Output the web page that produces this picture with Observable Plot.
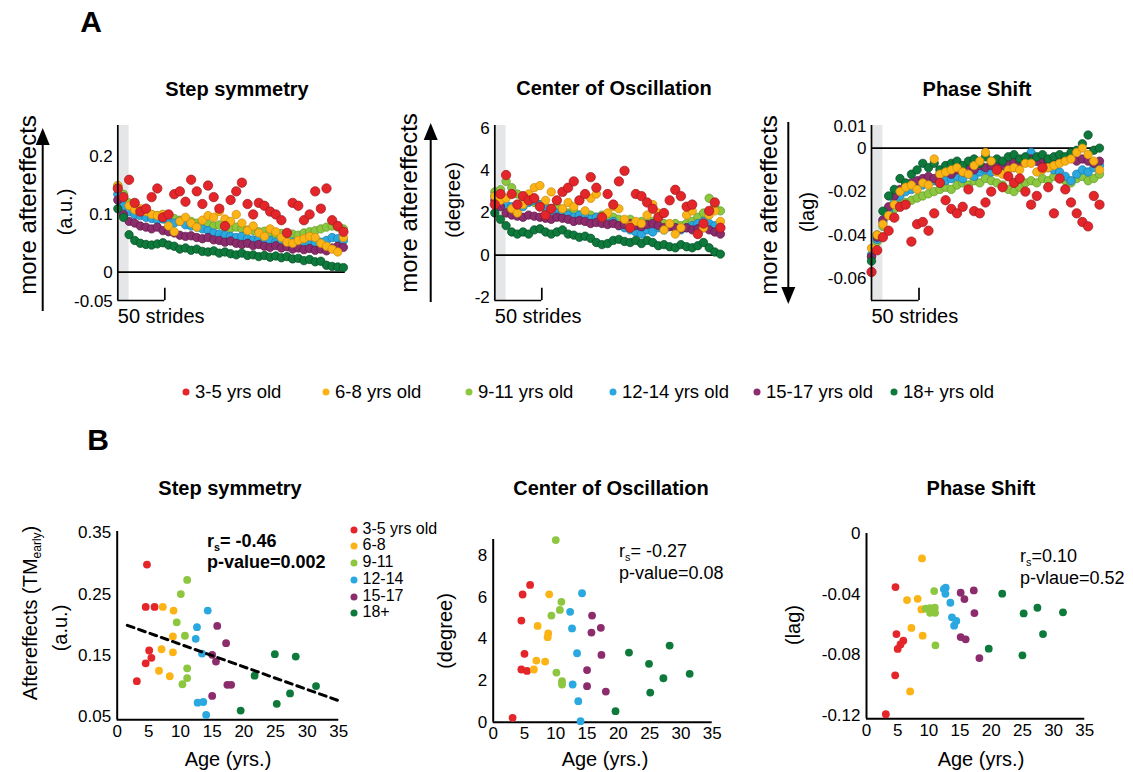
<!DOCTYPE html>
<html><head><meta charset="utf-8">
<script src="https://cdn.jsdelivr.net/npm/d3@7"></script>
<script src="https://cdn.jsdelivr.net/npm/@observablehq/plot@0.6"></script>
<style>
body{margin:0;width:1133px;height:772px;position:relative;overflow:hidden;background:#fff;font-family:"Liberation Sans",Arial,Helvetica,sans-serif;color:#000}
.pl{position:absolute}
.pl svg{overflow:visible}
.t{position:absolute;white-space:nowrap;line-height:1;transform:translate(-50%,-50%)}
.l{position:absolute;white-space:nowrap;line-height:1;transform:translate(0,-50%)}
.r{position:absolute;white-space:nowrap;line-height:1;transform:translate(-50%,-50%) rotate(-90deg)}
.dot{display:inline-block;width:7px;height:7px;border-radius:50%;position:absolute;transform:translate(-50%,-50%)}
sub{font-size:60%;vertical-align:-0.35em;line-height:0}
</style>
</head><body>
<script>
// ---------- categories ----------
const groups = ["3-5 yrs old","6-8 yrs old","9-11 yrs old","12-14 yrs old","15-17 yrs old","18+ yrs old"];
const groupShort = ["3-5 yrs old","6-8","9-11","12-14","15-17","18+"];
const groupColors = ["#e4252a","#fcb316","#8dc63f","#2aa8df","#8d2c6d","#0d7a3c"];
const groupStrokes = ["#9b1b1f","#c98a0c","#5e9a2a","#1c78a8","#5a1a46","#064a24"];
const drawOrder = [2,3,4,5,1,0];

// ---------- panel A: stride index of each sample ----------
const strides = [0,6,12,18,24,30,36,42,48,54,60,66,72,78,84,90,96,102,108,114,120,126,132,138,144,150,156,162,168,174,180,186,192,198,204,210,216,222,228,234,240];
const catchPeriod = [0, 12];
const scaleBar = [0, 50];

// Step symmetry (a.u.)
const step35   = [0.145,0.130,0.160,0.120,0.105,0.110,0.130,0.145,0.095,0.100,0.135,0.140,0.122,0.160,0.140,0.118,0.150,0.130,0.110,0.080,0.125,0.140,0.155,0.118,0.100,0.120,0.115,0.105,0.100,0.090,0.068,0.120,0.115,0.090,0.100,0.140,0.110,0.145,0.090,0.080,0.070];
const step68   = [0.150,0.130,0.115,0.108,0.110,0.105,0.100,0.098,0.100,0.080,0.070,0.088,0.095,0.085,0.078,0.090,0.098,0.095,0.105,0.092,0.088,0.100,0.085,0.072,0.080,0.068,0.062,0.075,0.070,0.060,0.052,0.050,0.055,0.058,0.062,0.060,0.050,0.045,0.040,0.035,0.060];
const step911  = [0.150,0.135,0.120,0.112,0.108,0.105,0.100,0.098,0.100,0.095,0.093,0.090,0.092,0.088,0.085,0.086,0.083,0.080,0.082,0.078,0.076,0.078,0.075,0.073,0.072,0.070,0.071,0.068,0.066,0.067,0.065,0.066,0.064,0.068,0.070,0.072,0.075,0.078,0.080,0.078,0.075];
const step1214 = [0.135,0.115,0.105,0.100,0.098,0.095,0.093,0.090,0.092,0.088,0.085,0.088,0.082,0.080,0.078,0.075,0.072,0.068,0.066,0.064,0.062,0.060,0.062,0.058,0.056,0.058,0.054,0.055,0.052,0.053,0.050,0.052,0.049,0.050,0.048,0.050,0.052,0.055,0.060,0.058,0.055];
const step1517 = [0.125,0.100,0.088,0.085,0.080,0.078,0.075,0.078,0.072,0.070,0.068,0.064,0.062,0.063,0.060,0.058,0.060,0.056,0.055,0.052,0.054,0.050,0.048,0.050,0.046,0.048,0.045,0.043,0.046,0.042,0.044,0.040,0.042,0.039,0.041,0.038,0.040,0.037,0.042,0.045,0.043];
const step18   = [0.110,0.095,0.065,0.055,0.050,0.048,0.047,0.049,0.051,0.047,0.045,0.040,0.042,0.038,0.040,0.036,0.035,0.037,0.033,0.035,0.032,0.030,0.033,0.029,0.030,0.027,0.029,0.026,0.028,0.025,0.027,0.023,0.024,0.020,0.022,0.018,0.019,0.012,0.010,0.009,0.008];

// Center of Oscillation (degree)
const coo35   = [2.4,2.9,3.8,2.9,2.4,2.8,2.6,2.7,2.3,1.9,2.2,2.6,3.0,3.2,3.5,2.6,2.9,3.7,3.2,1.8,2.9,2.4,3.5,4.0,1.3,2.9,2.8,2.5,2.2,1.8,2.0,2.6,3.1,2.8,2.3,2.4,1.0,1.5,2.1,2.5,1.3];
const coo68   = [2.8,2.6,2.7,2.2,2.0,2.4,2.9,3.2,3.3,2.6,3.0,2.6,2.2,2.5,2.3,2.6,2.1,2.7,2.9,1.8,2.0,2.3,2.2,1.7,1.4,1.6,1.5,1.9,2.4,2.0,1.2,1.5,1.0,1.3,1.9,2.1,1.0,1.3,1.9,2.1,1.6];
const coo911  = [3.0,3.1,3.5,3.2,2.9,2.7,2.6,2.5,2.4,2.3,2.2,2.3,2.1,2.0,2.1,1.9,2.0,1.9,1.8,1.9,1.7,1.8,1.7,1.6,1.7,1.5,1.6,1.5,1.6,1.4,1.5,1.4,1.5,1.4,1.5,1.6,1.8,2.0,2.7,2.3,2.1];
const coo1214 = [2.8,2.6,2.4,2.3,2.2,2.3,2.5,2.6,2.4,2.2,2.1,2.0,2.1,1.9,1.8,1.9,1.8,1.7,1.8,1.6,1.5,1.6,1.4,1.3,1.2,1.1,1.0,1.2,1.1,1.3,1.2,1.4,1.3,1.2,1.3,1.4,1.5,1.6,1.5,1.4,1.3];
const coo1517 = [2.6,2.3,2.0,1.9,1.85,1.8,1.9,1.85,1.8,1.75,1.7,1.8,1.75,1.7,1.6,1.65,1.6,1.5,1.55,1.5,1.45,1.5,1.4,1.45,1.5,1.4,1.35,1.45,1.5,1.4,1.3,1.35,1.3,1.25,1.3,1.2,1.25,1.3,1.2,1.1,1.0];
const coo18   = [2.0,1.7,1.4,1.1,1.0,1.1,1.0,1.2,1.25,1.1,1.0,1.1,1.2,1.0,0.95,0.85,0.9,0.8,0.6,0.5,0.55,0.7,0.75,0.65,0.6,0.7,0.55,0.7,0.6,0.45,0.5,0.4,0.35,0.5,0.4,0.35,0.45,0.6,0.35,0.15,0.05];

// Phase Shift (lag)
const ps35   = [-0.057,-0.047,-0.041,-0.038,-0.032,-0.027,-0.026,-0.043,-0.035,-0.034,-0.038,-0.030,-0.016,-0.024,-0.028,-0.030,-0.027,-0.019,-0.029,-0.030,-0.025,-0.020,-0.010,-0.018,-0.013,-0.016,-0.014,-0.020,-0.026,-0.022,-0.009,-0.018,-0.030,-0.014,-0.019,-0.025,-0.030,-0.034,-0.036,-0.022,-0.026];
const ps68   = [-0.046,-0.040,-0.035,-0.031,-0.026,-0.020,-0.018,-0.017,-0.019,-0.016,-0.017,-0.005,-0.012,-0.011,-0.010,-0.009,-0.011,-0.012,-0.008,-0.006,-0.002,-0.006,-0.011,-0.012,-0.010,-0.009,-0.010,-0.007,-0.007,-0.011,-0.010,-0.009,-0.008,-0.007,-0.006,-0.005,-0.002,0.000,-0.003,-0.006,-0.010];
const ps911  = [-0.050,-0.043,-0.036,-0.031,-0.028,-0.026,-0.025,-0.024,-0.023,-0.022,-0.021,-0.020,-0.019,-0.018,-0.019,-0.017,-0.016,-0.017,-0.015,-0.016,-0.014,-0.015,-0.016,-0.017,-0.019,-0.020,-0.018,-0.016,-0.015,-0.016,-0.014,-0.015,-0.013,-0.014,-0.015,-0.016,-0.014,-0.013,-0.015,-0.014,-0.012];
const ps1214 = [-0.049,-0.042,-0.034,-0.029,-0.025,-0.022,-0.020,-0.019,-0.018,-0.017,-0.016,-0.015,-0.016,-0.015,-0.014,-0.013,-0.014,-0.012,-0.013,-0.011,-0.010,-0.011,-0.009,-0.010,-0.008,-0.009,-0.007,-0.005,-0.002,-0.006,-0.008,-0.009,-0.010,-0.011,-0.013,-0.015,-0.012,-0.010,-0.011,-0.009,-0.008];
const ps1517 = [-0.050,-0.041,-0.033,-0.027,-0.022,-0.019,-0.017,-0.016,-0.015,-0.014,-0.013,-0.014,-0.012,-0.011,-0.012,-0.010,-0.011,-0.009,-0.010,-0.008,-0.009,-0.008,-0.007,-0.008,-0.007,-0.006,-0.007,-0.006,-0.005,-0.006,-0.005,-0.006,-0.005,-0.006,-0.005,-0.004,-0.006,-0.005,-0.006,-0.007,-0.006];
const ps18   = [-0.052,-0.040,-0.029,-0.022,-0.019,-0.014,-0.016,-0.012,-0.010,-0.007,-0.009,-0.007,-0.010,-0.008,-0.007,-0.006,-0.008,-0.006,-0.005,-0.007,-0.004,-0.006,-0.005,-0.006,-0.004,-0.003,-0.005,-0.004,-0.006,-0.004,-0.003,-0.005,-0.004,-0.003,-0.004,-0.002,-0.001,0.002,0.006,-0.001,0.000];

// ---------- panel B: subjects (7 per age group) ----------
const subjGroup = [0,0,0,0,0,0,0, 1,1,1,1,1,1,1, 2,2,2,2,2,2,2, 3,3,3,3,3,3,3, 4,4,4,4,4,4,4, 5,5,5,5,5,5,5];
const stepAge = [4.7,4.5,5.9,5.05,5.4,4.5,3.1, 7.2,8.9,8.8,8.8,7.0,6.6,8.3, 11.05,10.05,9.4,10.7,11.05,11.05,10.3, 14.3,12.6,12.4,13.4,12.7,13.6,14.05, 15.8,17.2,15.0,15.6,17.4,18.0,15.0, 24.9,28.2,21.7,31.4,27.3,25.2,19.5];
const stepVal = [0.298,0.229,0.229,0.158,0.146,0.137,0.108, 0.229,0.223,0.181,0.155,0.160,0.125,0.116, 0.273,0.250,0.204,0.182,0.129,0.113,0.103, 0.223,0.196,0.177,0.153,0.073,0.074,0.053, 0.198,0.170,0.151,0.140,0.102,0.102,0.084, 0.152,0.148,0.117,0.100,0.088,0.071,0.060];
const stepFitAge = [1.6, 35.3];
const stepFitVal = [0.199, 0.075];
const cooAge = [3.1,4.7,5.9,4.5,5.0,4.5,5.4, 8.95,7.1,8.8,8.7,6.9,8.3,6.5, 10.0,10.9,10.65,9.3,10.1,11.0,11.0, 14.2,12.3,12.6,13.4,12.7,13.6,13.96, 15.8,17.2,15.7,17.3,15.0,15.0,18.0, 28.2,21.7,24.9,31.4,27.2,25.1,19.55];
const cooVal = [0.21,6.13,6.59,4.88,3.28,2.53,2.46, 6.14,4.62,4.26,4.08,2.96,2.91,2.53, 8.74,5.78,5.39,5.12,2.38,1.97,1.81, 6.19,5.30,4.50,3.31,1.81,1.01,0.05, 5.12,4.53,4.30,3.23,2.50,1.73,1.47, 3.68,3.34,2.80,2.32,2.11,1.42,0.53];
const phaseAge = [4.65,4.8,5.9,5.45,5.0,4.6,3.1, 8.9,6.5,8.2,8.8,7.2,9.0,7.0, 10.85,9.5,10.15,10.2,10.95,11.0,11.05, 12.7,12.4,12.65,13.45,13.7,14.4,14.05, 17.2,15.1,15.7,17.3,15.1,15.9,18.1, 21.76,25.2,27.4,31.5,28.3,19.6,25.0];
const phaseVal = [-0.0353,-0.0662,-0.0706,-0.0730,-0.0760,-0.0934,-0.119, -0.0164,-0.0438,-0.0430,-0.0500,-0.0622,-0.0673,-0.104, -0.0379,-0.0495,-0.0491,-0.0522,-0.0489,-0.0522,-0.0736, -0.0357,-0.0366,-0.0397,-0.0456,-0.0552,-0.0576,-0.0607, -0.0375,-0.0390,-0.0432,-0.0524,-0.0682,-0.0697,-0.0820, -0.0396,-0.0526,-0.0489,-0.0519,-0.0662,-0.0758,-0.0802];
const ageTicks = [0,5,10,15,20,25,30,35];

// ---------- helpers ----------
const FONT = '"Liberation Sans", Arial, Helvetica, sans-serif';
function place(node, left, top) {
  const d = document.createElement("div");
  d.className = "pl"; d.style.left = left + "px"; d.style.top = top + "px";
  d.appendChild(node); document.body.appendChild(d);
}
function txt(cls, html, x, y, css) {
  const d = document.createElement("div");
  d.className = cls; d.innerHTML = html;
  d.style.left = x + "px"; d.style.top = y + "px";
  Object.assign(d.style, css || {});
  document.body.appendChild(d);
  return d;
}

function panelA(cfg) {
  const [y0, y1] = cfg.yDomain;
  const marks = [
    Plot.rect([catchPeriod], {x1: d => d[0], x2: d => d[1], y1: y0, y2: y1, fill: "#e5e6e7"}),
    Plot.ruleY([0], {x1: 0, x2: strides[strides.length - 1] + 2, stroke: "#000", strokeWidth: 1.7})
  ];
  for (const g of drawOrder) {
    const rows = cfg.series[g].map((v, i) => ({s: strides[i], v}));
    marks.push(Plot.dot(rows, {x: "s", y: "v", r: g === 0 ? 4.7 : 4.2, fill: groupColors[g], stroke: groupStrokes[g], strokeWidth: 0.7}));
  }
  marks.push(
    Plot.ruleX([0], {y1: y0, y2: y1, stroke: "#000", strokeWidth: 1.7}),
    Plot.ruleY([y0], {x1: scaleBar[0], x2: scaleBar[1], stroke: "#000", strokeWidth: 1.7}),
    Plot.ruleX([scaleBar[1]], {y1: y0, y2: y0 + (y1 - y0) * 0.07, stroke: "#000", strokeWidth: 1.7}),
    Plot.axisY({ticks: cfg.ticks, tickSize: 0, tickPadding: 5, tickFormat: d => String(d), fontSize: 17, label: null}),
    Plot.text(["50 strides"], {x: 0, y: y0, dy: 16, textAnchor: "start", fontSize: 20})
  );
  return Plot.plot({
    width: cfg.width, height: 230,
    marginLeft: cfg.ml, marginRight: cfg.mr, marginTop: 25, marginBottom: 30,
    x: {domain: [0, 242], axis: null},
    y: {domain: cfg.yDomain, axis: null},
    style: {fontFamily: FONT, fontSize: "17px", overflow: "visible", color: "#000"},
    marks
  });
}

function panelB(cfg) {
  const [y0, y1] = cfg.yDomain;
  const rows = cfg.age.map((a, i) => ({a, v: cfg.val[i], g: subjGroup[i]}));
  const marks = [
    Plot.ruleX([0], {y1: y0, y2: y1, stroke: "#000", strokeWidth: 2}),
    Plot.ruleY([y0], {x1: 0, x2: 35, stroke: "#000", strokeWidth: 2}),
    Plot.dot(rows, {x: "a", y: "v", r: 3.9, fill: d => groupColors[d.g], stroke: "none"}),
    Plot.axisX({ticks: ageTicks, tickSize: 0, tickPadding: 5, fontSize: 17, label: null}),
    Plot.axisY({ticks: cfg.ticks, tickSize: 0, tickPadding: 6, tickFormat: d => String(d), fontSize: 17, label: null})
  ];
  if (cfg.fit) marks.push(Plot.line(cfg.fit.a.map((a, i) => ({a, v: cfg.fit.v[i]})), {x: "a", y: "v", stroke: "#000", strokeWidth: 3, strokeDasharray: "7,5"}));
  return Plot.plot({
    width: cfg.width, height: 250,
    marginLeft: cfg.ml, marginRight: cfg.mr, marginTop: cfg.mt, marginBottom: cfg.mb,
    x: {domain: [0, 35]},
    y: {domain: cfg.yDomain},
    style: {fontFamily: FONT, fontSize: "17px", overflow: "visible", color: "#000"},
    marks
  });
}

// ---------- Panel A plots ----------
place(panelA({width: 360, ml: 117.3, mr: 15.2, yDomain: [-0.049, 0.254], ticks: [0.2, 0.1, 0, -0.05],
  series: [step35, step68, step911, step1214, step1517, step18]}), 0, 100);
place(panelA({width: 360, ml: 114.3, mr: 18.2, yDomain: [-2.15, 6.15], ticks: [6, 4, 2, 0, -2],
  series: [coo35, coo68, coo911, coo1214, coo1517, coo18]}), 380, 100);
place(panelA({width: 380, ml: 131, mr: 19.1, yDomain: [-0.0701, 0.0104], ticks: [0.01, 0, -0.02, -0.04, -0.06],
  series: [ps35, ps68, ps911, ps1214, ps1517, ps18]}), 740, 100);

// ---------- Panel B plots ----------
place(panelB({width: 360, ml: 116.7, mr: 21.7, mt: 31, mb: 30.7, yDomain: [0.045, 0.352], ticks: [0.35, 0.25, 0.15, 0.05],
  age: stepAge, val: stepVal, fit: {a: stepFitAge, v: stepFitVal}}), 0, 500);
place(panelB({width: 360, ml: 112.7, mr: 28.3, mt: 39, mb: 28.3, yDomain: [0, 8.77], ticks: [0, 2, 4, 6, 8],
  age: cooAge, val: cooVal}), 380, 500);
place(panelB({width: 380, ml: 126, mr: 35.7, mt: 33, mb: 31.7, yDomain: [-0.122, 0], ticks: [0, -0.04, -0.08, -0.12],
  age: phaseAge, val: phaseVal}), 740, 500);

// ---------- texts ----------
txt("t", "A", 91, 22, {fontWeight: "bold", fontSize: "30px"});
txt("t", "B", 98, 440, {fontWeight: "bold", fontSize: "30px"});
const titleCss = {fontWeight: "bold", fontSize: "20px"};
txt("t", "Step symmetry", 237, 89, titleCss);
txt("t", "Center of Oscillation", 614, 88, titleCss);
txt("t", "Phase Shift", 977, 89, titleCss);
txt("t", "Step symmetry", 230, 488, titleCss);
txt("t", "Center of Oscillation", 611, 488, titleCss);
txt("t", "Phase Shift", 981, 488, titleCss);

// panel A side labels
const bigCss = {fontSize: "24px"};
txt("r", "more aftereffects", 28, 205, bigCss);
txt("r", "more aftereffects", 409, 203, bigCss);
txt("r", "more aftereffects", 769, 205, bigCss);
const unitCss = {fontSize: "20px"};
txt("r", "(a.u.)", 65, 212, unitCss);
txt("r", "(degree)", 453, 200, unitCss);
txt("r", "(lag)", 807, 212, unitCss);

// arrows
const ov = d3.select("body").append("svg")
  .attr("width", 1133).attr("height", 772)
  .style("position", "absolute").style("left", 0).style("top", 0).style("pointer-events", "none");
function arrow(x, yFrom, yTo) {
  const dir = yTo < yFrom ? -1 : 1;
  ov.append("line").attr("x1", x).attr("x2", x).attr("y1", yFrom).attr("y2", yTo - dir * 12)
    .attr("stroke", "#000").attr("stroke-width", 2);
  ov.append("path").attr("d", `M${x},${yTo} L${x - 7},${yTo - dir * 17} L${x + 7},${yTo - dir * 17} Z`).attr("fill", "#000");
}
arrow(42.7, 311, 128);
arrow(430.7, 302, 123);
arrow(788.3, 122, 304);

// legend A
const legX = [186, 326, 469, 613, 757, 894];
groups.forEach((g, i) => {
  txt("dot", "", legX[i], 392, {background: groupColors[i]});
  txt("l", g, legX[i] + 9, 392, {fontSize: "18.5px"});
});

// legend B1
const legBy = [528.5, 545.2, 562, 578.8, 595.6, 612.4];
groupShort.forEach((g, i) => {
  txt("dot", "", 354, legBy[i] + 1, {background: groupColors[i]});
  txt("l", g, 362.5, legBy[i], {fontSize: "16px"});
});

// annotations B
txt("l", "r<sub>s</sub>= -0.46", 207, 541, {fontSize: "18px", fontWeight: "bold"});
txt("l", "p-value=0.002", 207, 562, {fontSize: "18px", fontWeight: "bold"});
txt("l", "r<sub>s</sub>= -0.27", 619, 551, {fontSize: "18px"});
txt("l", "p-value=0.08", 619, 573, {fontSize: "18px"});
txt("l", "r<sub>s</sub>=0.10", 1020, 556, {fontSize: "18px"});
txt("l", "p-vlaue=0.52", 1020, 578, {fontSize: "18px"});

// axis labels B
txt("t", "Age (yrs.)", 228, 759, unitCss);
txt("t", "Age (yrs.)", 605, 759, unitCss);
txt("t", "Age (yrs.)", 981, 759, unitCss);
txt("r", "Aftereffects (TM<sub>early</sub>)", 30, 613, unitCss);
txt("r", "(a.u.)", 60, 628, unitCss);
txt("r", "(degree)", 445, 631, unitCss);
txt("r", "(lag)", 793, 625, unitCss);
</script>
</body></html>
